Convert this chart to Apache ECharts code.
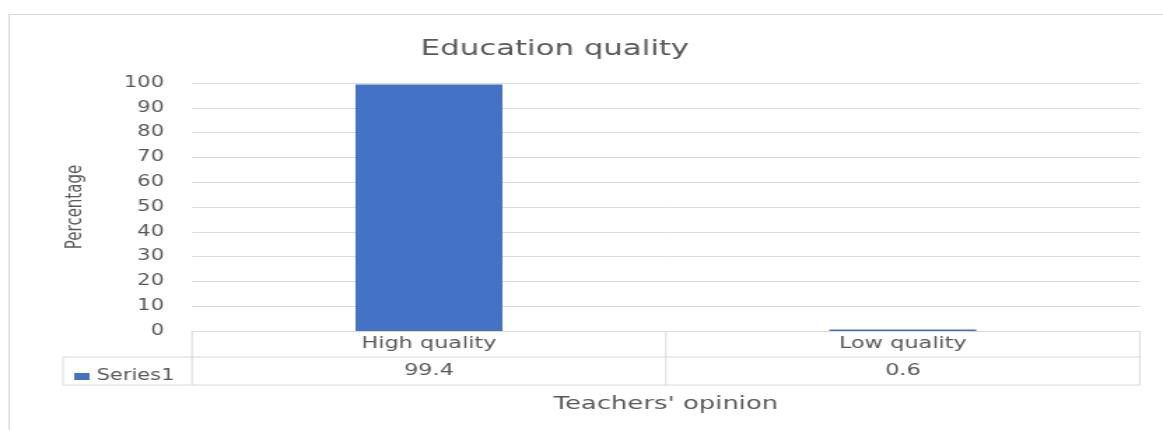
<!DOCTYPE html>
<html><head><meta charset="utf-8">
<script src="https://cdn.jsdelivr.net/npm/echarts@6/dist/echarts.min.js"></script>
<style>
html,body{margin:0;padding:0;background:#fff;overflow:hidden;}
#wrap{width:1163px;height:430px;overflow:hidden;}
#c{width:831px;height:430px;transform:scaleX(1.39952);transform-origin:0 0;}
</style></head>
<body><div id="wrap"><div id="c"></div></div>
<script>
const categories = ['High quality', 'Low quality'];
const seriesName = 'Series1';
const values = [99.4, 0.6];
const yTicks = [0, 10, 20, 30, 40, 50, 60, 70, 80, 90, 100];

const FONT = 'DejaVu Sans';
const GRAY = '#595959';
const LINE = '#d9d9d9';
const W = 831, H = 430;
const G = {left: 137.2, right: 16.6, top: 83, bottom: 99};
const gx0 = G.left, gx1 = W - G.right, gy1 = H - G.bottom;
const row1 = gy1 + 26, row2 = gy1 + 54, legX = 45;

const chart = echarts.init(document.getElementById('c'), null, {renderer: 'canvas'});
const seg = (x1, y1, x2, y2) => ({type: 'line', shape: {x1, y1, x2, y2}, style: {stroke: LINE, lineWidth: 1}, silent: true});
const midX = (gx0 + gx1) / 2;

chart.setOption({
  animation: false,
  textStyle: {fontFamily: FONT},
  title: {text: 'Education quality', left: 391.5, top: 33, textAlign: 'center',
    textStyle: {fontFamily: FONT, fontSize: 22, fontWeight: 'normal', color: GRAY}},
  legend: {show: true, left: 48, top: row1 + 7, itemWidth: 11, itemHeight: 7, itemGap: 4,
    icon: 'rect', data: [seriesName], textStyle: {fontFamily: FONT, fontSize: 15, color: GRAY}, selectedMode: false},
  grid: {left: G.left, right: G.right, top: G.top, bottom: G.bottom, containLabel: false},
  xAxis: [
    {type: 'category', data: categories, position: 'bottom',
      axisLine: {show: true, lineStyle: {color: LINE}}, axisTick: {show: false},
      axisLabel: {margin: 5, fontSize: 16, color: GRAY, fontFamily: FONT},
      name: "Teachers' opinion", nameLocation: 'middle', nameGap: 64,
      nameTextStyle: {fontSize: 18.5, color: GRAY, fontFamily: FONT}},
    {type: 'category', data: values.map(v => String(v)), position: 'bottom', offset: 27,
      axisLine: {show: false}, axisTick: {show: false},
      axisLabel: {margin: 5, fontSize: 16, color: GRAY, fontFamily: FONT}}
  ],
  yAxis: {type: 'value', min: yTicks[0], max: yTicks[yTicks.length - 1], interval: 10,
    axisLine: {show: false}, axisTick: {show: false},
    axisLabel: {margin: 20, fontSize: 15, color: GRAY, fontFamily: FONT},
    splitLine: {lineStyle: {color: LINE, width: 1}},
    name: 'Percentage', nameLocation: 'middle', nameGap: 76, nameRotate: 90,
    nameTextStyle: {fontSize: 15, color: GRAY, fontFamily: FONT}},
  series: [{name: seriesName, type: 'bar', data: values, barWidth: '31%',
    itemStyle: {color: '#4472C4'}}],
  graphic: [
    seg(6, 14.5, W + 5, 14.5),
    seg(6.5, 14, 6.5, H + 5),
    seg(legX, row1, gx1, row1),
    seg(legX, row2, gx1, row2),
    seg(legX, row1, legX, row2),
    seg(gx0, gy1, gx0, row2),
    seg(midX, gy1, midX, row2),
    seg(gx1, gy1, gx1, row2)
  ]
});
</script></body></html>
